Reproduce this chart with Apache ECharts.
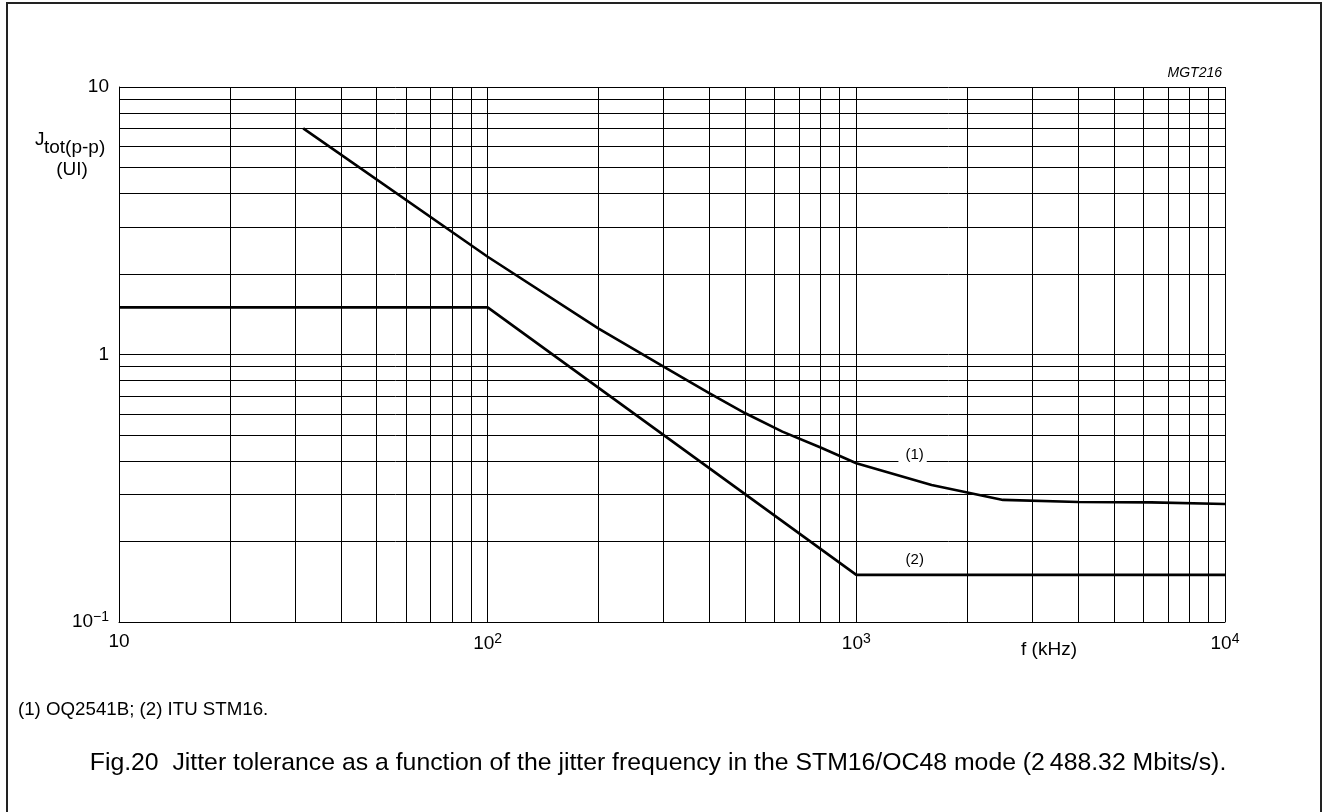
<!DOCTYPE html>
<html>
<head>
<meta charset="utf-8">
<script src="https://cdn.jsdelivr.net/npm/echarts@6/dist/echarts.min.js"></script>
<style>
  html, body { margin: 0; padding: 0; background: #fff; }
  #chart { width: 1329px; height: 812px; }
</style>
</head>
<body>
<div id="chart"></div>
<script>
// Curve (1): OQ2541B jitter tolerance, frequency in kHz, jitter in UI (p-p)
const oq2541bFreq   = [31.6, 100, 200, 300, 400, 500, 630, 800, 1000, 1600, 2500, 4000, 6300, 10000];
const oq2541bJitter = [7.0, 2.32, 1.25, 0.90, 0.716, 0.603, 0.515, 0.449, 0.392, 0.325, 0.286, 0.281, 0.280, 0.276];

// Curve (2): ITU STM16 mask
const ituFreq   = [10, 100, 1000, 10000];
const ituJitter = [1.5, 1.5, 0.15, 0.15];

// Logarithmic grid lines (decades and 2..9 subdivisions)
const xGridValues = [10, 20, 30, 40, 50, 60, 70, 80, 90,
                     100, 200, 300, 400, 500, 600, 700, 800, 900,
                     1000, 2000, 3000, 4000, 5000, 6000, 7000, 8000, 9000, 10000];
const yGridValues = [0.1, 0.2, 0.3, 0.4, 0.5, 0.6, 0.7, 0.8, 0.9,
                     1, 2, 3, 4, 5, 6, 7, 8, 9, 10];

// Tick labels as [mantissa, exponent] keyed by decade
const xTickDecades = [1, 2, 3, 4];
const xTickText    = [['10', ''], ['10', '2'], ['10', '3'], ['10', '4']];
const yTickDecades = [-1, 0, 1];
const yTickText    = [['10', '\u22121'], ['1', ''], ['10', '']];

// Series label positions (frequency, jitter)
const curveLabels = [
  { text: '(1)', freq: 1421, jitter: 0.421 },
  { text: '(2)', freq: 1440, jitter: 0.1706 }
];

const FONT = '"Liberation Sans", Arial, Helvetica, sans-serif';

function tickFormatter(decades, texts) {
  return function (value) {
    const d = Math.round(Math.log10(value));
    const i = decades.indexOf(d);
    if (i < 0) return '';
    const t = texts[i];
    return t[1] ? '{b|' + t[0] + '}{s|' + t[1] + '}' : '{b|' + t[0] + '}';
  };
}

const labelRich = {
  b: { fontFamily: FONT, fontSize: 19, color: '#000' },
  s: { fontFamily: FONT, fontSize: 14, color: '#000', padding: [0, 0, 10, 0] }
};

const chart = echarts.init(document.getElementById('chart'), null, { renderer: 'canvas' });

const gridMarkLines = xGridValues.map(v => ({ xAxis: v }))
  .concat(yGridValues.map(v => ({ yAxis: v })));

chart.setOption({
  backgroundColor: '#fff',
  animation: false,
  grid: { left: 119, top: 87, right: 104, bottom: 190, containLabel: false },
  xAxis: {
    type: 'log', logBase: 10, min: 10, max: 10000,
    axisLine: { show: true, lineStyle: { color: '#000', width: 1 } },
    axisTick: { show: false },
    splitLine: { show: false },
    minorTick: { show: false },
    axisLabel: {
      margin: 10,
      formatter: tickFormatter(xTickDecades, xTickText),
      rich: labelRich
    }
  },
  yAxis: {
    type: 'log', logBase: 10, min: 0.1, max: 10,
    axisLine: { show: true, lineStyle: { color: '#000', width: 1 } },
    axisTick: { show: false },
    splitLine: { show: false },
    minorTick: { show: false },
    axisLabel: {
      margin: 10,
      formatter: tickFormatter(yTickDecades, yTickText),
      rich: labelRich
    }
  },
  series: [
    {
      name: 'grid',
      type: 'line',
      data: [],
      silent: true,
      z: 1,
      markLine: {
        silent: true,
        symbol: ['none', 'none'],
        label: { show: false },
        lineStyle: { color: '#000', width: 1, type: 'solid' },
        emphasis: { disabled: true },
        data: gridMarkLines
      }
    },
    {
      name: 'OQ2541B',
      type: 'line',
      z: 5,
      data: oq2541bFreq.map((f, i) => [f, oq2541bJitter[i]]),
      showSymbol: false,
      symbol: 'none',
      lineStyle: { color: '#000', width: 2.6 },
      markPoint: {
        symbol: 'rect', symbolSize: 0,
        silent: true,
        label: {
          show: true, position: 'inside',
          formatter: curveLabels[0].text,
          fontFamily: FONT, fontSize: 15, color: '#000',
          backgroundColor: '#fff', padding: [1, 3, 1, 7]
        },
        data: [{ coord: [curveLabels[0].freq, curveLabels[0].jitter] }]
      }
    },
    {
      name: 'ITU STM16',
      type: 'line',
      z: 5,
      data: ituFreq.map((f, i) => [f, ituJitter[i]]),
      showSymbol: false,
      symbol: 'none',
      lineStyle: { color: '#000', width: 2.6 },
      markPoint: {
        symbol: 'rect', symbolSize: 0,
        silent: true,
        label: {
          show: true, position: 'inside',
          formatter: curveLabels[1].text,
          fontFamily: FONT, fontSize: 15, color: '#000'
        },
        data: [{ coord: [curveLabels[1].freq, curveLabels[1].jitter] }]
      }
    }
  ],
  graphic: [
    {
      type: 'rect', silent: true, z: 0,
      shape: { x: 7, y: 3, width: 1314, height: 815 },
      style: { fill: 'none', stroke: '#222', lineWidth: 2 }
    },
    {
      type: 'text', silent: true,
      x: 1222, y: 73,
      style: { text: 'MGT216', fontFamily: FONT, fontSize: 14, fontStyle: 'italic', fill: '#000', align: 'right', verticalAlign: 'middle' }
    },
    {
      // y-axis quantity: J with subscript tot(p-p), unit below
      type: 'text', silent: true,
      x: 35, y: 140,
      style: { text: 'J', fontFamily: FONT, fontSize: 19, fill: '#000', align: 'left', verticalAlign: 'middle' }
    },
    {
      type: 'text', silent: true,
      x: 44, y: 148,
      style: { text: 'tot(p-p)', fontFamily: FONT, fontSize: 19, fill: '#000', align: 'left', verticalAlign: 'middle' }
    },
    {
      type: 'text', silent: true,
      x: 72, y: 170,
      style: { text: '(UI)', fontFamily: FONT, fontSize: 19, fill: '#000', align: 'center', verticalAlign: 'middle' }
    },
    {
      type: 'text', silent: true,
      x: 1049, y: 650,
      style: { text: 'f (kHz)', fontFamily: FONT, fontSize: 19, fill: '#000', align: 'center', verticalAlign: 'middle' }
    },
    {
      type: 'text', silent: true,
      x: 18, y: 710,
      style: { text: '(1) OQ2541B; (2) ITU STM16.', fontFamily: FONT, fontSize: 18.7, fill: '#000', align: 'left', verticalAlign: 'middle' }
    },
    {
      type: 'text', silent: true,
      x: 658, y: 763,
      style: { text: 'Fig.20  Jitter tolerance as a function of the jitter frequency in the STM16/OC48 mode (2\u2009488.32 Mbits/s).', fontFamily: FONT, fontSize: 24.8, fill: '#000', align: 'center', verticalAlign: 'middle' }
    }
  ]
});
</script>
</body>
</html>
